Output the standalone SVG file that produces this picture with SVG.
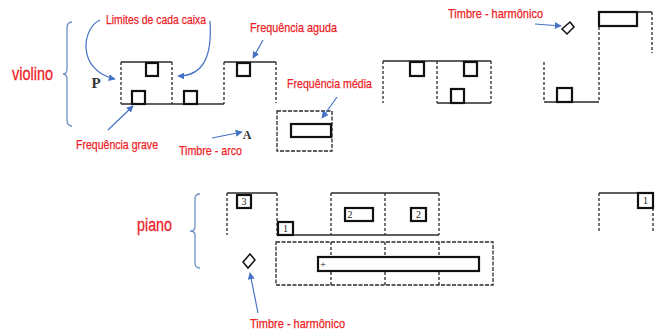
<svg xmlns="http://www.w3.org/2000/svg" width="660" height="335" viewBox="0 0 660 335">
<style>
.lbl{font-family:"Liberation Sans Narrow","Liberation Sans",Arial,sans-serif;font-size:13.5px;fill:#ee1c25;stroke:#ee1c25;stroke-width:0.25}
.big{font-family:"Liberation Sans Narrow","Liberation Sans",Arial,sans-serif;font-size:19px;fill:#ee1c25;stroke:#ee1c25;stroke-width:0.3}
.h{stroke:#2a2a2a;stroke-width:1.3;fill:none}
.v{stroke:#2a2a2a;stroke-width:1.3;fill:none;stroke-dasharray:3 2}
.d{stroke:#2a2a2a;stroke-width:1.3;fill:none;stroke-dasharray:4 1.5}
.note{stroke:#111;stroke-width:2.2;fill:#fff}
.num{font-family:"Liberation Serif",serif;font-size:10px;fill:#222;text-anchor:middle}
.sym{font-family:"Liberation Serif",serif;fill:#333}
.arr{stroke:#4472c4;stroke-width:1.2;fill:none;marker-end:url(#ah)}
.br{stroke:#6f8fc8;stroke-width:1.3;fill:none}
</style>
<defs>
<marker id="ah" viewBox="0 0 10 10" refX="9" refY="5" markerWidth="7" markerHeight="7" orient="auto" markerUnits="userSpaceOnUse">
<path d="M0,0 L10,5 L0,10 z" fill="#4472c4"/>
</marker>
</defs>
<rect width="660" height="335" fill="#fff"/>

<g id="violino-label">
<text class="big" x="12" y="80" textLength="41" lengthAdjust="spacingAndGlyphs">violino</text>
<path class="br" d="M72,22 Q67,22 67,28 L67,69 Q67,74 63,74 Q67,74 67,79 L67,120 Q67,126 72,126"/>
</g>

<g id="piano-label">
<text class="big" x="137" y="231" textLength="35" lengthAdjust="spacingAndGlyphs">piano</text>
<path class="br" d="M200,194 Q195,194 195,199 L195,227 Q195,231 190,231 Q195,231 195,235 L195,263 Q195,268 200,268"/>
</g>

<g id="v-box1">
<line class="h" x1="121" y1="62" x2="172" y2="62"/>
<line class="v" x1="121" y1="62" x2="121" y2="104"/>
<line class="v" x1="172" y1="62" x2="172" y2="104"/>
<line class="h" x1="121" y1="104" x2="172" y2="104"/>
<rect class="note" x="146" y="63" width="12" height="13"/>
<rect class="note" x="132" y="91" width="13" height="13"/>
</g>
<g id="v-box2">
<line class="h" x1="172" y1="104" x2="224" y2="104"/>
<line class="v" x1="224" y1="62" x2="224" y2="104"/>
<rect class="note" x="184" y="91" width="13" height="13"/>
</g>
<g id="v-box3">
<line class="h" x1="224" y1="62" x2="276" y2="62"/>
<line class="v" x1="276" y1="62" x2="276" y2="103"/>
<rect class="note" x="237" y="63" width="13" height="13"/>
</g>
<g id="v-box-media">
<rect class="d" x="277" y="111" width="55" height="40"/>
<rect class="note" x="291" y="124" width="40" height="13"/>
</g>
<g id="v-box4">
<line class="h" x1="383" y1="61" x2="437" y2="61"/>
<line class="v" x1="383" y1="61" x2="383" y2="103"/>
<rect class="note" x="410" y="62" width="14" height="14"/>
</g>
<g id="v-box5">
<line class="h" x1="437" y1="61" x2="491" y2="61"/>
<line class="v" x1="437" y1="61" x2="437" y2="103"/>
<line class="v" x1="491" y1="61" x2="491" y2="103"/>
<line class="h" x1="437" y1="103" x2="491" y2="103"/>
<rect class="note" x="464" y="62" width="13" height="14"/>
<rect class="note" x="451" y="89" width="13" height="14"/>
</g>
<g id="v-box6">
<line class="v" x1="544" y1="62" x2="544" y2="102"/>
<line class="h" x1="544" y1="102" x2="599" y2="102"/>
<line class="v" x1="599" y1="12" x2="599" y2="102"/>
<rect class="note" x="557" y="88" width="15" height="14"/>
</g>
<g id="v-box7">
<line class="h" x1="599" y1="12" x2="652" y2="12"/>
<line class="v" x1="652" y1="12" x2="652" y2="53"/>
<rect class="note" x="599" y="12" width="38" height="14"/>
</g>
<g id="v-symbols">
<text class="sym" x="96" y="88" font-size="15" font-weight="bold" text-anchor="middle">P</text>
<text class="sym" x="247" y="139" font-size="12" font-weight="bold" text-anchor="middle">A</text>
<polygon points="570,22 574,27 567,34 562,29" fill="#fff" stroke="#111" stroke-width="1.5"/>
</g>

<g id="p-box1">
<line class="h" x1="227" y1="193" x2="277" y2="193"/>
<line class="v" x1="227" y1="193" x2="227" y2="235"/>
<line class="v" x1="277" y1="193" x2="277" y2="235"/>
<rect class="note" x="237" y="195" width="14" height="13"/>
<text class="num" x="244" y="205">3</text>
</g>
<g id="p-box2">
<line class="h" x1="277" y1="235" x2="331" y2="235"/>
<rect class="note" x="278" y="222" width="15" height="13"/>
<text class="num" x="285.5" y="232">1</text>
</g>
<g id="p-box3">
<line class="h" x1="331" y1="193" x2="385" y2="193"/>
<line class="v" x1="331" y1="193" x2="331" y2="235"/>
<line class="h" x1="331" y1="235" x2="385" y2="235"/>
<rect class="note" x="345" y="208" width="28" height="13"/>
<text class="num" x="350" y="218">2</text>
</g>
<g id="p-box4">
<line class="h" x1="385" y1="193" x2="439" y2="193"/>
<line class="v" x1="385" y1="193" x2="385" y2="235"/>
<line class="v" x1="439" y1="193" x2="439" y2="235"/>
<line class="h" x1="385" y1="235" x2="439" y2="235"/>
<rect class="note" x="411" y="208" width="15" height="13"/>
<text class="num" x="418.5" y="218">2</text>
</g>
<g id="p-long">
<rect class="d" x="276" y="242" width="217" height="43"/>
<line class="v" x1="331" y1="242" x2="331" y2="285"/>
<line class="v" x1="385" y1="242" x2="385" y2="285"/>
<line class="v" x1="439" y1="242" x2="439" y2="285"/>
<rect class="note" x="318" y="257" width="161" height="14"/>
<text class="num" x="323" y="268" font-size="12">+</text>
</g>
<g id="p-box5">
<line class="h" x1="599" y1="193" x2="653" y2="193"/>
<line class="v" x1="599" y1="193" x2="599" y2="232"/>
<line class="v" x1="653" y1="193" x2="653" y2="232"/>
<rect class="note" x="638" y="193" width="15" height="15"/>
<text class="num" x="645.5" y="204">1</text>
</g>
<g id="p-symbols">
<polygon points="250,254 255,260 248,268 243,262" fill="#fff" stroke="#111" stroke-width="1.5"/>
</g>

<g id="annotations">
<text class="lbl" x="106" y="24" textLength="100" lengthAdjust="spacingAndGlyphs">Limites de cada caixa</text>
<text class="lbl" x="250" y="32" textLength="87" lengthAdjust="spacingAndGlyphs">Frequência aguda</text>
<text class="lbl" x="76" y="149" textLength="82" lengthAdjust="spacingAndGlyphs">Frequência grave</text>
<text class="lbl" x="179" y="155" textLength="63" lengthAdjust="spacingAndGlyphs">Timbre - arco</text>
<text class="lbl" x="287" y="88" textLength="85" lengthAdjust="spacingAndGlyphs">Frequência média</text>
<text class="lbl" x="448" y="18" textLength="95" lengthAdjust="spacingAndGlyphs">Timbre - harmônico</text>
<text class="lbl" x="250" y="328" textLength="95" lengthAdjust="spacingAndGlyphs">Timbre - harmônico</text>
</g>

<g id="connectors">
<path class="arr" d="M100,20 C82,28 76,70 115,79"/>
<path class="arr" d="M210,21 C212,52 206,76 178,76"/>
<line class="arr" x1="263" y1="40" x2="253" y2="58"/>
<line class="arr" x1="108" y1="130" x2="133" y2="106"/>
<line class="arr" x1="212" y1="138" x2="242" y2="132"/>
<line class="arr" x1="337" y1="97" x2="322" y2="118"/>
<line class="arr" x1="535" y1="24" x2="561" y2="26"/>
<line class="arr" x1="258" y1="313" x2="250" y2="273"/>
</g>
</svg>
